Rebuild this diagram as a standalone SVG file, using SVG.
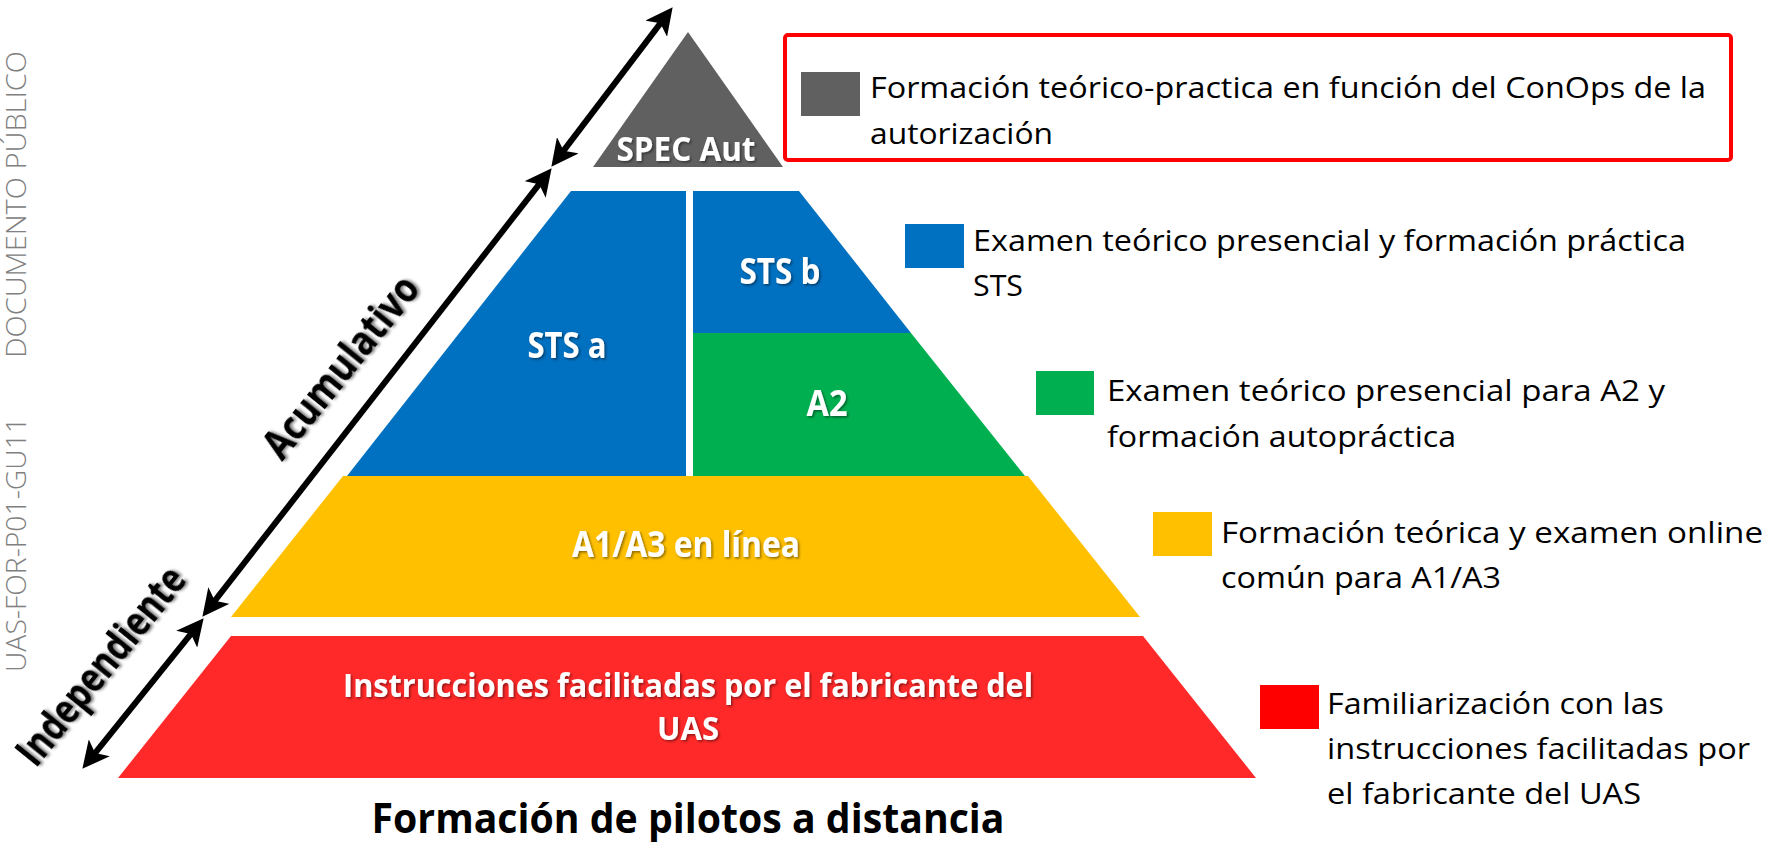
<svg xmlns="http://www.w3.org/2000/svg" width="1766" height="842" viewBox="0 0 1766 842">
  <defs>
    <style>
      .lbl { fill: #FFFFFF; font-family: "Open Sans", "Liberation Sans", sans-serif; font-weight: 700; text-anchor: middle; filter: url(#sh); }
      .leg { fill: #000000; font-family: "Open Sans", "Liberation Sans", sans-serif; font-size: 30px; }
      .side { fill: #000000; font-family: "Open Sans", "Liberation Sans", sans-serif; font-weight: 700; font-size: 41px; text-anchor: middle; filter: url(#sh2); }
      .wm { fill: #808080; font-family: "Open Sans", "Liberation Sans", sans-serif; font-weight: 300; font-size: 27px; }
      .arr { stroke: #000000; stroke-width: 6; fill: none; marker-start: url(#ah); marker-end: url(#ah); }
    </style>
    <filter id="sh" x="-10%" y="-30%" width="130%" height="170%">
      <feDropShadow dx="1.5" dy="1.5" stdDeviation="1.2" flood-color="#000000" flood-opacity="0.45"/>
    </filter>
    <filter id="sh2" x="-10%" y="-30%" width="130%" height="170%">
      <feDropShadow dx="2" dy="2" stdDeviation="1.8" flood-color="#000000" flood-opacity="0.5"/>
    </filter>
    <marker id="ah" viewBox="0 0 24 24" markerUnits="userSpaceOnUse" markerWidth="27" markerHeight="27" refX="16" refY="12" orient="auto-start-reverse">
      <path d="M24,12 L0,0 L6,12 L0,24 Z" fill="#000000"/>
    </marker>
  </defs>
  <rect x="0" y="0" width="1766" height="842" fill="#FFFFFF"/>

  <!-- watermark -->
  <text class="wm" transform="translate(26,358) rotate(-90)" textLength="307" lengthAdjust="spacingAndGlyphs">DOCUMENTO PÚBLICO</text>
  <text class="wm" transform="translate(26,672) rotate(-90)" textLength="255" lengthAdjust="spacingAndGlyphs">UAS-FOR-P01-GU11</text>

  <!-- pyramid tiers -->
  <g id="spec-aut">
    <polygon points="688,32 593,167 783,167" fill="#606060"/>
    <text class="lbl" x="686" y="161" font-size="34" textLength="139" lengthAdjust="spacingAndGlyphs">SPEC Aut</text>
  </g>
  <g id="sts-a">
    <polygon points="571,191 686,191 686,476 347,476" fill="#0070C0"/>
    <text class="lbl" x="567" y="358" font-size="35" textLength="79" lengthAdjust="spacingAndGlyphs">STS a</text>
  </g>
  <g id="sts-b">
    <polygon points="693,191 799,191 911,333 693,333" fill="#0070C0"/>
    <text class="lbl" x="780" y="284" font-size="35" textLength="81" lengthAdjust="spacingAndGlyphs">STS b</text>
  </g>
  <g id="a2">
    <polygon points="693,333 911,333 1025,476 693,476" fill="#00B050"/>
    <text class="lbl" x="827" y="416" font-size="35" textLength="41" lengthAdjust="spacingAndGlyphs">A2</text>
  </g>
  <g id="a1a3">
    <polygon points="343,476 1028,476 1140,617 231,617" fill="#FFC000"/>
    <text class="lbl" x="686" y="557" font-size="35" textLength="228" lengthAdjust="spacingAndGlyphs">A1/A3 en línea</text>
  </g>
  <g id="fabricante">
    <polygon points="231,636 1143,636 1256,778 118,778" fill="#FF2929"/>
    <text class="lbl" x="688" y="697" font-size="32" textLength="690" lengthAdjust="spacingAndGlyphs">Instrucciones facilitadas por el fabricante del</text>
    <text class="lbl" x="688" y="740" font-size="32" textLength="62" lengthAdjust="spacingAndGlyphs">UAS</text>
  </g>

  <!-- title -->
  <text id="title" x="688" y="833" fill="#000000" font-family="Open Sans, Liberation Sans, sans-serif" font-weight="700" font-size="42" text-anchor="middle" textLength="633" lengthAdjust="spacingAndGlyphs">Formación de pilotos a distancia</text>

  <!-- connectors -->
  <g id="connectors">
    <line class="arr" x1="667.2" y1="14.4" x2="556.8" y2="159.6"/>
    <line class="arr" x1="546.1" y1="175.3" x2="207.9" y2="609.7"/>
    <line class="arr" x1="198" y1="625.2" x2="88" y2="761.8"/>
  </g>
  <g id="side-labels">
    <text class="side" transform="translate(341,367) rotate(-51)" y="14" textLength="222" lengthAdjust="spacingAndGlyphs">Acumulativo</text>
    <text class="side" transform="translate(101,666) rotate(-51)" y="14" textLength="242" lengthAdjust="spacingAndGlyphs">Independiente</text>
  </g>

  <!-- legend -->
  <g id="legend-spec">
    <rect x="785" y="35" width="946" height="125" rx="3" fill="none" stroke="#FF0000" stroke-width="4"/>
    <rect x="801" y="72" width="59" height="44" fill="#606060"/>
    <text class="leg" x="870" y="98" textLength="836" lengthAdjust="spacingAndGlyphs">Formación teórico-practica en función del ConOps de la</text>
    <text class="leg" x="870" y="144" textLength="183" lengthAdjust="spacingAndGlyphs">autorización</text>
  </g>
  <g id="legend-sts">
    <rect x="905" y="224" width="59" height="44" fill="#0070C0"/>
    <text class="leg" x="973" y="251" textLength="713" lengthAdjust="spacingAndGlyphs">Examen teórico presencial y formación práctica</text>
    <text class="leg" x="973" y="296" textLength="50" lengthAdjust="spacingAndGlyphs">STS</text>
  </g>
  <g id="legend-a2">
    <rect x="1036" y="371" width="58" height="44" fill="#00B050"/>
    <text class="leg" x="1107" y="401" textLength="558" lengthAdjust="spacingAndGlyphs">Examen teórico presencial para A2 y</text>
    <text class="leg" x="1107" y="447" textLength="349" lengthAdjust="spacingAndGlyphs">formación autopráctica</text>
  </g>
  <g id="legend-a1a3">
    <rect x="1153" y="512" width="59" height="44" fill="#FFC000"/>
    <text class="leg" x="1221" y="543" textLength="542" lengthAdjust="spacingAndGlyphs">Formación teórica y examen online</text>
    <text class="leg" x="1221" y="588" textLength="280" lengthAdjust="spacingAndGlyphs">común para A1/A3</text>
  </g>
  <g id="legend-fabricante">
    <rect x="1260" y="685" width="59" height="44" fill="#FF0000"/>
    <text class="leg" x="1327" y="714" textLength="337" lengthAdjust="spacingAndGlyphs">Familiarización con las</text>
    <text class="leg" x="1327" y="759" textLength="423" lengthAdjust="spacingAndGlyphs">instrucciones facilitadas por</text>
    <text class="leg" x="1327" y="804" textLength="314" lengthAdjust="spacingAndGlyphs">el fabricante del UAS</text>
  </g>
</svg>
